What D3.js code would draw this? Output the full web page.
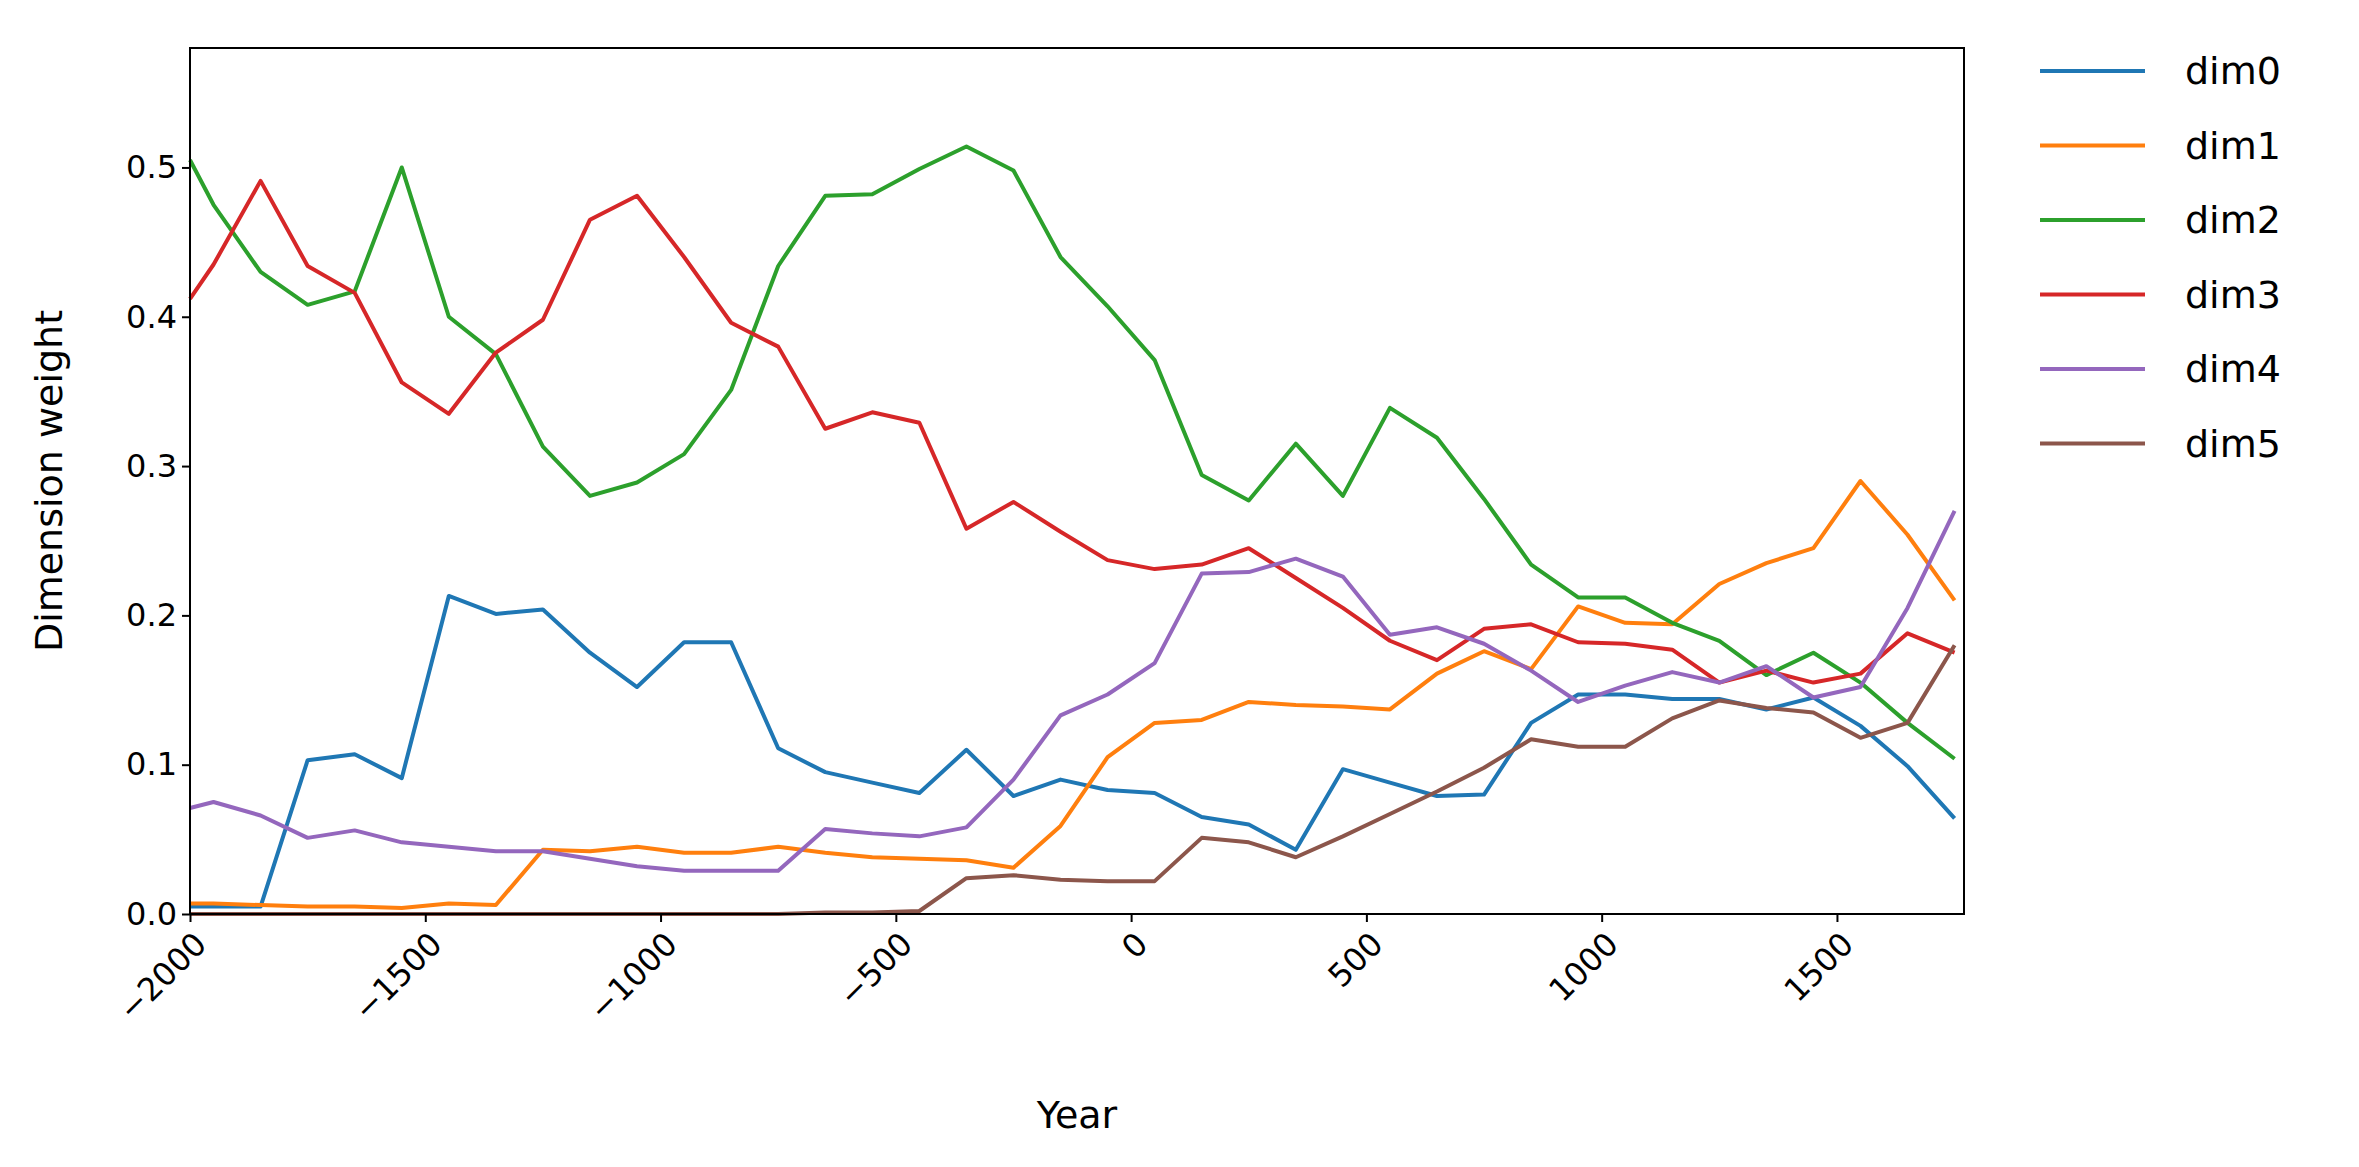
<!DOCTYPE html>
<html>
<head>
<meta charset="utf-8">
<script src="https://cdn.jsdelivr.net/npm/d3@7"></script>
<style>
  body { margin: 0; background: #fff; }
  text { font-family: "DejaVu Sans", sans-serif; fill: #000; }
</style>
</head>
<body>
<svg id="chart" width="2359" height="1167"></svg>
<script>
const years = [-2000, -1950, -1850, -1750, -1650, -1550, -1450, -1350, -1250, -1150, -1050, -950, -850, -750,
  -650, -550, -450, -350, -250, -150, -50, 50, 150, 250, 350, 450, 550, 650, 750, 850, 950, 1050, 1150, 1250,
  1350, 1450, 1550, 1650, 1750];

const dim0 = [0.005, 0.005, 0.005, 0.103, 0.107, 0.091, 0.213, 0.201, 0.204, 0.175, 0.152, 0.182, 0.182, 0.111,
  0.095, 0.088, 0.081, 0.11, 0.079, 0.09, 0.083, 0.081, 0.065, 0.06, 0.043, 0.097, 0.088, 0.079, 0.08, 0.128,
  0.147, 0.147, 0.144, 0.144, 0.137, 0.145, 0.126, 0.099, 0.064];
const dim1 = [0.007, 0.007, 0.006, 0.005, 0.005, 0.004, 0.007, 0.006, 0.043, 0.042, 0.045, 0.041, 0.041, 0.045,
  0.041, 0.038, 0.037, 0.036, 0.031, 0.059, 0.105, 0.128, 0.13, 0.142, 0.14, 0.139, 0.137, 0.161, 0.176, 0.164,
  0.206, 0.195, 0.194, 0.221, 0.235, 0.245, 0.29, 0.254, 0.21];
const dim2 = [0.505, 0.475, 0.43, 0.408, 0.417, 0.5, 0.4, 0.375, 0.313, 0.28, 0.289, 0.308, 0.351, 0.434, 0.481,
  0.482, 0.499, 0.514, 0.498, 0.44, 0.407, 0.371, 0.294, 0.277, 0.315, 0.28, 0.339, 0.319, 0.278, 0.234, 0.212,
  0.212, 0.195, 0.183, 0.16, 0.175, 0.155, 0.128, 0.104];
const dim3 = [0.412, 0.435, 0.491, 0.434, 0.416, 0.356, 0.335, 0.376, 0.398, 0.465, 0.481, 0.44, 0.396, 0.38,
  0.325, 0.336, 0.329, 0.258, 0.276, 0.256, 0.237, 0.231, 0.234, 0.245, 0.225, 0.205, 0.183, 0.17, 0.191, 0.194,
  0.182, 0.181, 0.177, 0.155, 0.163, 0.155, 0.161, 0.188, 0.175];
const dim4 = [0.071, 0.075, 0.066, 0.051, 0.056, 0.048, 0.045, 0.042, 0.042, 0.037, 0.032, 0.029, 0.029, 0.029,
  0.057, 0.054, 0.052, 0.058, 0.09, 0.133, 0.147, 0.168, 0.228, 0.229, 0.238, 0.226, 0.187, 0.192, 0.181, 0.163,
  0.142, 0.153, 0.162, 0.155, 0.166, 0.145, 0.152, 0.205, 0.27];
const dim5 = [0, 0, 0, 0, 0, 0, 0, 0, 0, 0, 0, 0, 0, 0, 0.001, 0.001, 0.002, 0.024, 0.026, 0.023, 0.022, 0.022,
  0.051, 0.048, 0.038, 0.052, 0.067, 0.082, 0.098, 0.117, 0.112, 0.112, 0.131, 0.143, 0.138, 0.135, 0.118,
  0.128, 0.18];

const seriesNames = ["dim0", "dim1", "dim2", "dim3", "dim4", "dim5"];
const seriesValues = [dim0, dim1, dim2, dim3, dim4, dim5];
const colors = ["#1f77b4", "#ff7f0e", "#2ca02c", "#d62728", "#9467bd", "#8c564b"];
const xTicks = [-2000, -1500, -1000, -500, 0, 500, 1000, 1500];
const yTicks = [0, 0.1, 0.2, 0.3, 0.4, 0.5];

const margin = { left: 190, right: 1964, top: 48, bottom: 914 };
const svg = d3.select("#chart");

const x = d3.scaleLinear().domain([-2000, 1770]).range([margin.left, margin.right]);
const y = d3.scaleLinear().domain([0, 0.58]).range([margin.bottom, margin.top]);

// lines
const line = d3.line().x((d) => x(d[0])).y((d) => y(d[1]));
const plot = svg.append("g");
seriesValues.forEach((vals, i) => {
  plot.append("path")
    .datum(years.map((yr, j) => [yr, vals[j]]))
    .attr("d", line)
    .attr("fill", "none")
    .attr("stroke", colors[i])
    .attr("stroke-width", 4)
    .attr("stroke-linejoin", "round");
});

// frame
svg.append("rect")
  .attr("x", margin.left).attr("y", margin.top)
  .attr("width", margin.right - margin.left).attr("height", margin.bottom - margin.top)
  .attr("fill", "none").attr("stroke", "#000").attr("stroke-width", 2);

// x axis
const xAxis = svg.append("g")
  .attr("transform", `translate(0,${margin.bottom})`)
  .call(d3.axisBottom(x).tickValues(xTicks).tickSize(8).tickFormat((d) => d3.format("d")(d).replace("-", "\u2212")));
xAxis.select(".domain").remove();
xAxis.selectAll("line").attr("stroke-width", 2);
xAxis.selectAll("text")
  .attr("font-size", 32)
  .attr("text-anchor", "end")
  .attr("y", 0)
  .attr("dy", 0)
  .attr("transform", "translate(18,32) rotate(-45)");

// y axis
const yAxis = svg.append("g")
  .attr("transform", `translate(${margin.left},0)`)
  .call(d3.axisLeft(y).tickValues(yTicks).tickSize(8).tickFormat(d3.format(".1f")));
yAxis.select(".domain").remove();
yAxis.selectAll("line").attr("stroke-width", 2);
yAxis.selectAll("text").attr("font-size", 32).attr("x", -13);

svg.append("text")
  .attr("x", (margin.left + margin.right) / 2).attr("y", 1128)
  .attr("text-anchor", "middle").attr("font-size", 38).text("Year");

svg.append("text")
  .attr("transform", `translate(62,${(margin.top + margin.bottom) / 2}) rotate(-90)`)
  .attr("text-anchor", "middle").attr("font-size", 38).text("Dimension weight");

// legend
const legend = svg.append("g");
seriesNames.forEach((name, i) => {
  const ly = 71 + i * 74.5;
  legend.append("line")
    .attr("x1", 2040).attr("x2", 2145).attr("y1", ly).attr("y2", ly)
    .attr("stroke", colors[i]).attr("stroke-width", 4);
  legend.append("text")
    .attr("x", 2185).attr("y", ly).attr("dy", "0.35em")
    .attr("font-size", 38).text(name);
});
</script>
</body>
</html>
